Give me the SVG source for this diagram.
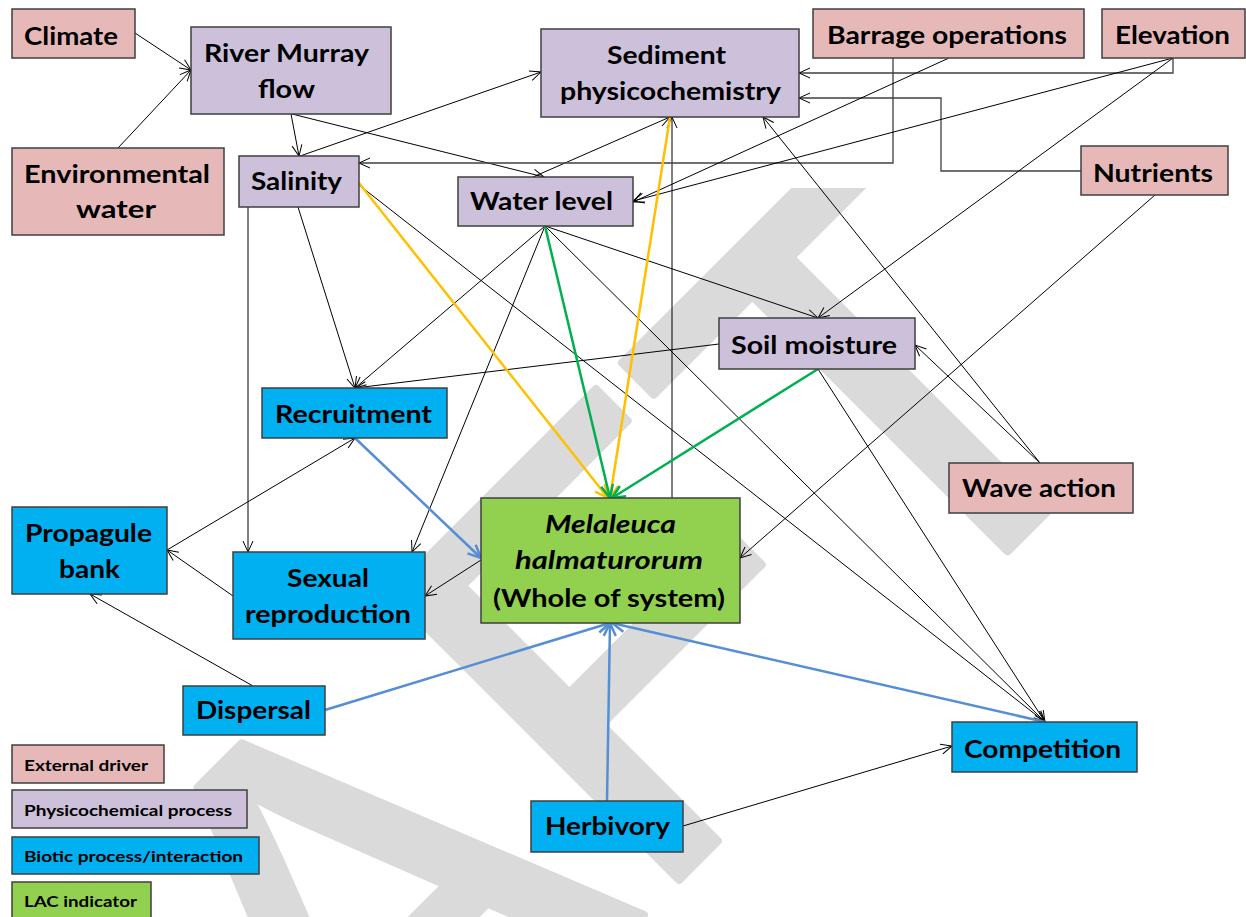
<svg xmlns="http://www.w3.org/2000/svg" width="1246" height="917" viewBox="0 0 1246 917">
  <style>
    .box { stroke: #3f3f3f; stroke-width: 1.5; }
    .ext { fill: #e6b9b8; }
    .phys { fill: #ccc0da; }
    .bio { fill: #00b0f0; }
    .lac { fill: #92d050; }
    text { font-family: Lato, "Liberation Sans", sans-serif; font-weight: 700; fill: #000; }
    .t { font-size: 25.5px; text-anchor: middle; }
    .it { font-style: italic; }
    .lg { font-size: 15.7px; text-anchor: start; }
    .wm { font-family: "Liberation Sans", sans-serif; font-weight: 400; font-size: 590px; fill: #dadada; stroke: #dadada; stroke-width: 8; stroke-linejoin: round; }
    .k { fill: none; stroke: #000; stroke-width: 1; marker-end: url(#ak); }
    .kg { fill: none; stroke: #404040; stroke-width: 1.3; marker-end: url(#ak); }
    .y { fill: none; stroke: #ffc000; stroke-width: 2.5; marker-end: url(#ay); }
    .g { fill: none; stroke: #00b050; stroke-width: 2.5; marker-end: url(#ag); }
    .b { fill: none; stroke: #558ed5; stroke-width: 2.5; marker-end: url(#ab); }
  </style>
  <defs>
    <marker id="ak" viewBox="-13 -7 15 14" refX="0" refY="0" markerWidth="15" markerHeight="14" markerUnits="userSpaceOnUse" orient="auto">
      <path d="M-11,-5 L0,0 L-11,5" fill="none" stroke="#000" stroke-width="1"/>
    </marker>
    <marker id="ay" viewBox="-16 -9 18 18" refX="0" refY="0" markerWidth="18" markerHeight="18" markerUnits="userSpaceOnUse" orient="auto">
      <path d="M-13,-6 L0,0 L-13,6" fill="none" stroke="#ffc000" stroke-width="2.5"/>
    </marker>
    <marker id="ag" viewBox="-16 -9 18 18" refX="0" refY="0" markerWidth="18" markerHeight="18" markerUnits="userSpaceOnUse" orient="auto">
      <path d="M-13,-6 L0,0 L-13,6" fill="none" stroke="#00b050" stroke-width="2.5"/>
    </marker>
    <marker id="ab" viewBox="-16 -9 18 18" refX="0" refY="0" markerWidth="18" markerHeight="18" markerUnits="userSpaceOnUse" orient="auto">
      <path d="M-13,-6 L0,0 L-13,6" fill="none" stroke="#558ed5" stroke-width="2.5"/>
    </marker>
    <!-- the watermark only shows below the top band of the page -->
    <clipPath id="wmclip"><rect x="0" y="188" width="1246" height="729"/></clipPath>
  </defs>

  <rect width="1246" height="917" fill="#fff"/>

  <!-- background watermark -->
  <g id="watermark" clip-path="url(#wmclip)">
    <text class="wm" transform="translate(-236,1795) rotate(-45)">DRAFT</text>
  </g>

  <g id="connectors">
    <!-- thin black links -->
    <path class="k" d="M135,33 L191,70"/>
    <path class="k" d="M118,148 L191,70"/>
    <path class="k" d="M291,114 L299,156"/>
    <path class="k" d="M292,114 L544,177"/>
    <path class="k" d="M300,156 L541,72"/>
    <path class="k" d="M533,177 L670,117"/>
    <path class="k" d="M672,498 L672,117"/>
    <path class="kg" d="M893,58 V163 H359"/>
    <path class="kg" d="M1173,58 V73 H799"/>
    <path class="kg" d="M1081,171 H941 V98 H799"/>
    <path class="k" d="M949,58 L633,202"/>
    <path class="k" d="M1173,58 L633,201"/>
    <path class="k" d="M1173,58 L818,318"/>
    <path class="k" d="M1155,195 L740,558"/>
    <path class="k" d="M1040,463 L915,345"/>
    <path class="k" d="M1040,463 L763,117"/>
    <path class="k" d="M298,207 L355,388"/>
    <path class="k" d="M545,226 L355,388"/>
    <path class="k" d="M719,344 L355,388"/>
    <path class="k" d="M248,207 L248,552"/>
    <path class="k" d="M545,226 L412,552"/>
    <path class="k" d="M359,185 L1045,722"/>
    <path class="k" d="M545,226 L1045,722"/>
    <path class="k" d="M545,226 L818,318"/>
    <path class="k" d="M818,369 L1045,722"/>
    <path class="k" d="M167,550 L355,438"/>
    <path class="k" d="M233,596 L167,550"/>
    <path class="k" d="M481,560 L425,596"/>
    <path class="k" d="M253,686 L90,594"/>
    <path class="k" d="M683,826 L952,746"/>
    <!-- highlighted links into the indicator -->
    <path class="y" d="M359,183 L608,498"/>
    <path class="y" d="M670,117 L610,498"/>
    <path class="g" d="M545,226 L610,498"/>
    <path class="g" d="M818,369 L612,498"/>
    <path class="b" d="M355,438 L481,558"/>
    <path class="b" d="M325,710 L610,623"/>
    <path class="b" d="M607,801 L610,623"/>
    <path class="b" d="M1045,722 L612,623"/>
  </g>

  <g id="climate"><rect class="box ext" x="12" y="9" width="123" height="49"/><text class="t" x="71" y="45" textLength="94" lengthAdjust="spacingAndGlyphs">Climate</text></g>
  <g id="river-murray-flow"><rect class="box phys" x="191" y="27" width="200" height="87"/><text class="t" x="286.5" y="62" textLength="165" lengthAdjust="spacingAndGlyphs">River Murray</text><text class="t" x="286.5" y="98" textLength="57" lengthAdjust="spacingAndGlyphs">flow</text></g>
  <g id="environmental-water"><rect class="box ext" x="12" y="148" width="212" height="87"/><text class="t" x="117" y="183" textLength="186" lengthAdjust="spacingAndGlyphs">Environmental</text><text class="t" x="116" y="218" textLength="80" lengthAdjust="spacingAndGlyphs">water</text></g>
  <g id="salinity"><rect class="box phys" x="239" y="156" width="120" height="51"/><text class="t" x="296.5" y="190" textLength="91" lengthAdjust="spacingAndGlyphs">Salinity</text></g>
  <g id="sediment-physicochemistry"><rect class="box phys" x="541" y="29" width="258" height="88"/><text class="t" x="666.5" y="64" textLength="119" lengthAdjust="spacingAndGlyphs">Sediment</text><text class="t" x="670.5" y="100" textLength="221" lengthAdjust="spacingAndGlyphs">physicochemistry</text></g>
  <g id="water-level"><rect class="box phys" x="458" y="177" width="175" height="49"/><text class="t" x="541.5" y="210" textLength="143" lengthAdjust="spacingAndGlyphs">Water level</text></g>
  <g id="barrage-operations"><rect class="box ext" x="813" y="9" width="271" height="49"/><text class="t" x="947" y="44" textLength="240" lengthAdjust="spacingAndGlyphs">Barrage operations</text></g>
  <g id="elevation"><rect class="box ext" x="1102" y="9" width="143" height="49"/><text class="t" x="1172.5" y="44" textLength="115" lengthAdjust="spacingAndGlyphs">Elevation</text></g>
  <g id="nutrients"><rect class="box ext" x="1081" y="146" width="147" height="49"/><text class="t" x="1153" y="182" textLength="120" lengthAdjust="spacingAndGlyphs">Nutrients</text></g>
  <g id="soil-moisture"><rect class="box phys" x="719" y="318" width="196" height="51"/><text class="t" x="814" y="354" textLength="166" lengthAdjust="spacingAndGlyphs">Soil moisture</text></g>
  <g id="wave-action"><rect class="box ext" x="949" y="463" width="184" height="50"/><text class="t" x="1039" y="497" textLength="154" lengthAdjust="spacingAndGlyphs">Wave action</text></g>
  <g id="recruitment"><rect class="box bio" x="262" y="388" width="185" height="50"/><text class="t" x="353.5" y="423" textLength="157" lengthAdjust="spacingAndGlyphs">Recruitment</text></g>
  <g id="melaleuca"><rect class="box lac" x="481" y="498" width="259" height="125"/><text class="t it" x="610.5" y="533" textLength="131" lengthAdjust="spacingAndGlyphs">Melaleuca</text><text class="t it" x="609" y="569" textLength="188" lengthAdjust="spacingAndGlyphs">halmaturorum</text><text class="t" x="609" y="607" textLength="232" lengthAdjust="spacingAndGlyphs">(Whole of system)</text></g>
  <g id="propagule-bank"><rect class="box bio" x="12" y="507" width="155" height="87"/><text class="t" x="88.5" y="542" textLength="127" lengthAdjust="spacingAndGlyphs">Propagule</text><text class="t" x="89.5" y="578" textLength="61" lengthAdjust="spacingAndGlyphs">bank</text></g>
  <g id="sexual-reproduction"><rect class="box bio" x="233" y="552" width="192" height="87"/><text class="t" x="328" y="587" textLength="82" lengthAdjust="spacingAndGlyphs">Sexual</text><text class="t" x="328" y="623" textLength="166" lengthAdjust="spacingAndGlyphs">reproduction</text></g>
  <g id="dispersal"><rect class="box bio" x="183" y="686" width="142" height="49"/><text class="t" x="253.5" y="719" textLength="115" lengthAdjust="spacingAndGlyphs">Dispersal</text></g>
  <g id="herbivory"><rect class="box bio" x="531" y="801" width="152" height="51"/><text class="t" x="607.5" y="835" textLength="125" lengthAdjust="spacingAndGlyphs">Herbivory</text></g>
  <g id="competition"><rect class="box bio" x="952" y="722" width="185" height="50"/><text class="t" x="1042.5" y="758" textLength="157" lengthAdjust="spacingAndGlyphs">Competition</text></g>

  <g id="legend">
    <g id="legend-external"><rect class="box ext" x="12" y="745" width="152" height="38"/><text class="lg" x="24" y="771" textLength="124" lengthAdjust="spacingAndGlyphs">External driver</text></g>
    <g id="legend-physicochemical"><rect class="box phys" x="12" y="790" width="235" height="38"/><text class="lg" x="24" y="816" textLength="208" lengthAdjust="spacingAndGlyphs">Physicochemical process</text></g>
    <g id="legend-biotic"><rect class="box bio" x="12" y="837" width="247" height="37"/><text class="lg" x="24" y="862" textLength="219" lengthAdjust="spacingAndGlyphs">Biotic process/interaction</text></g>
    <g id="legend-lac"><rect class="box lac" x="12" y="882" width="139" height="40"/><text class="lg" x="24" y="907" textLength="113" lengthAdjust="spacingAndGlyphs">LAC indicator</text></g>
  </g>
</svg>
